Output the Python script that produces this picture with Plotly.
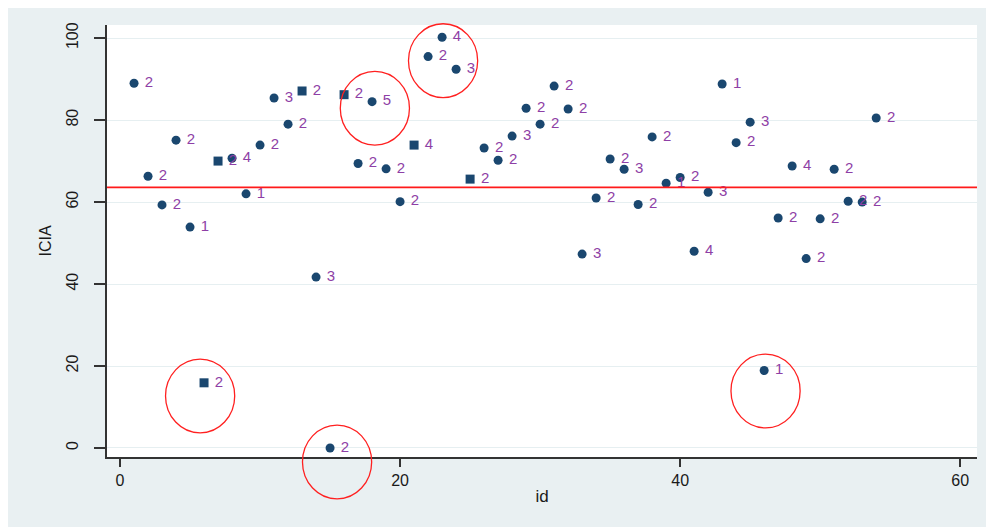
import plotly.graph_objects as go

# ---- data ----
ids = list(range(1, 55))
icia = [89.0, 66.3, 59.3, 75.1, 53.9, 15.9, 70.0, 70.7, 62.0, 73.9,
        85.4, 79.0, 87.1, 41.7, 0.0, 86.2, 69.4, 84.5, 68.1, 60.1,
        73.9, 95.5, 100.2, 92.4, 65.6, 73.2, 70.2, 76.1, 82.9, 79.0,
        88.3, 82.7, 47.3, 61.0, 70.5, 68.0, 59.4, 75.9, 64.6, 66.0,
        48.0, 62.4, 88.8, 74.5, 79.5, 18.9, 56.1, 68.8, 46.2, 55.9,
        68.0, 60.2, 60.0, 80.5]
labels = ["2", "2", "2", "2", "1", "2", "2", "4", "1", "2",
          "3", "2", "2", "3", "2", "2", "2", "5", "2", "2",
          "4", "2", "4", "3", "2", "2", "2", "3", "2", "2",
          "2", "2", "3", "2", "2", "3", "2", "2", "1", "2",
          "4", "3", "1", "2", "3", "1", "2", "4", "2", "2",
          "2", "2", "2", "2"]
square_ids = [6, 7, 13, 16, 21, 25]
ref_line = 63.6

# highlighted circles: centre (id, ICIA), half-width in id units, half-height in ICIA units
circle_x = [5.72, 15.5, 46.1, 18.2, 23.07]
circle_y = [12.7, -3.4, 13.9, 82.9, 94.5]
circle_rx = 2.47
circle_ry = 9.0

xticks = [0, 20, 40, 60]
yticks = [0, 20, 40, 60, 80, 100]
x_range = [-0.93, 61.2]
y_range = [-2.2, 103.2]

navy = "#1a476f"
label_col = "#8e3fa6"

symbols = ["square" if i in square_ids else "circle" for i in ids]

fig = go.Figure()
fig.add_trace(go.Scatter(
    x=ids, y=icia, mode="markers+text", text=labels,
    texttemplate=" %{text}",
    textposition="middle right",
    textfont=dict(family="Liberation Sans, Arial, sans-serif", size=15, color=label_col),
    marker=dict(color=navy, size=9, symbol=symbols, line=dict(width=0)),
    hoverinfo="x+y", showlegend=False, cliponaxis=False,
))

def px(v):
    return (v - x_range[0]) / (x_range[1] - x_range[0])

def py(v):
    return (v - y_range[0]) / (y_range[1] - y_range[0])

shapes = []
# reference line
shapes.append(dict(type="line", xref="paper", yref="y", x0=0, x1=1, y0=ref_line, y1=ref_line,
                   line=dict(color="#ff1a1a", width=1.8)))
for cx, cy in zip(circle_x, circle_y):
    shapes.append(dict(type="circle", xref="paper", yref="paper",
                       x0=px(cx - circle_rx), x1=px(cx + circle_rx),
                       y0=py(cy - circle_ry), y1=py(cy + circle_ry),
                       line=dict(color="#ff2020", width=1.3), fillcolor="rgba(0,0,0,0)"))

fig.update_layout(
    width=994, height=527,
    margin=dict(l=99, r=25, t=17, b=78),
    paper_bgcolor="#e9f0f2",
    plot_bgcolor="white",
    shapes=shapes,
    font=dict(family="Liberation Sans, Arial, sans-serif", color="#1a1a1a"),
    xaxis=dict(range=x_range, tickvals=xticks, ticks="outside", ticklen=8, tickwidth=1.5,
               tickcolor="#333333", showline=True, linecolor="#333333", linewidth=1.8,
               showgrid=False, zeroline=False, tickfont=dict(size=16),
               title=dict(text="id", font=dict(size=17), standoff=2)),
    yaxis=dict(range=y_range, tickvals=yticks, ticks="outside", ticklen=11, tickwidth=1.5,
               tickcolor="#333333", showline=True, linecolor="#333333", linewidth=1.8,
               showgrid=True, gridcolor="#e6eff1", gridwidth=1.2, zeroline=False,
               tickangle=-90, tickfont=dict(size=16), ticklabelstandoff=10,
               title=dict(text="ICIA", font=dict(size=16), standoff=8)),
)

fig.write_html("out.html")
